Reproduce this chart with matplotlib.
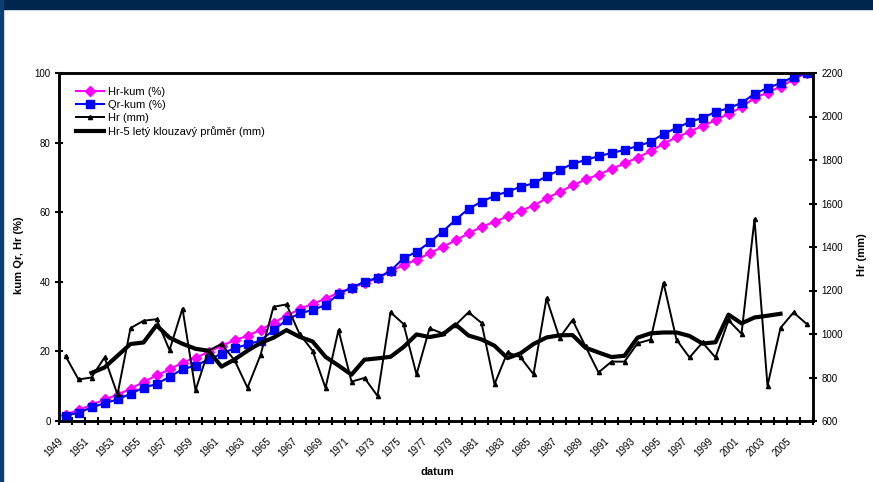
import numpy as np
import matplotlib
matplotlib.use("Agg")
import matplotlib.pyplot as plt
from matplotlib.patches import Rectangle

plt.rcParams['font.family'] = ['Liberation Sans', 'DejaVu Sans']

# roky 1949-2006
years = list(range(1949, 2007))

# rocni uhrn srazek Hr (mm)
hr = [899, 791, 800, 892, 722, 1027, 1061, 1068, 926, 1117,
      741, 924, 954, 880, 753, 903, 1125, 1136, 1000, 924,
      752, 1018, 781, 798, 715, 1100, 1046, 814, 1026, 1003,
      1041, 1100, 1051, 769, 916, 893, 815, 1164, 982, 1064,
      943, 823, 873, 873, 957, 974, 1236, 974, 892, 961,
      892, 1063, 1001, 1528, 762, 1028, 1099, 1047]

# 5lety klouzavy prumer (1951-2004)
hr_ma_years = list(range(1951, 2005))
hr_ma = [821, 846, 900, 954, 961, 1040, 983, 955, 932, 923,
         850, 883, 923, 959, 983, 1018, 987, 966, 895, 855,
         813, 882, 888, 895, 940, 998, 986, 997, 1044, 993,
         975, 946, 889, 911, 954, 984, 994, 995, 937, 915,
         894, 900, 983, 1003, 1007, 1007, 991, 956, 962, 1089,
         1049, 1076, 1084, 1093]

# kumulativni hodnoty (%)
hr_kum = [1.8, 3.2, 4.6, 6.2, 7.5, 9.3, 11.2, 13.1, 14.8, 16.8,
          18.2, 19.8, 21.6, 23.2, 24.5, 26.2, 28.2, 30.3, 32.1, 33.7,
          35.1, 36.9, 38.2, 39.7, 41.0, 43.0, 44.8, 46.3, 48.2, 50.0,
          51.9, 53.9, 55.8, 57.2, 58.8, 60.4, 61.9, 64.0, 65.8, 67.7,
          69.4, 70.8, 72.4, 74.0, 75.7, 77.5, 79.7, 81.5, 83.1, 84.8,
          86.4, 88.3, 90.1, 92.9, 94.3, 96.1, 98.1, 100.0]
qr_kum = [1.5, 2.4, 3.9, 5.1, 6.2, 7.8, 9.6, 10.6, 12.7, 14.9,
          15.9, 17.7, 19.3, 20.9, 22.0, 23.1, 26.1, 29.0, 30.9, 31.9,
          33.3, 36.5, 38.3, 40.0, 41.2, 43.1, 46.8, 48.6, 51.3, 54.4,
          57.8, 61.0, 63.0, 64.7, 65.9, 67.3, 68.3, 70.3, 72.1, 73.9,
          75.0, 76.1, 77.0, 77.9, 79.0, 80.2, 82.5, 84.2, 85.9, 87.1,
          88.8, 89.9, 91.4, 94.0, 95.7, 97.1, 98.9, 100.0]

x = np.arange(len(years))
x_ma = np.array([years.index(y) for y in hr_ma_years])

fig = plt.figure(figsize=(8.73, 4.82), dpi=100)

# tmave modry ramecek snimku
fig.patches.append(Rectangle((0, 1 - 9 / 482), 1, 9 / 482, transform=fig.transFigure,
                             color='#00264d', zorder=0))
fig.patches.append(Rectangle((0, 0), 2.5 / 873, 1, transform=fig.transFigure,
                             color='#0b3f73', zorder=0))

ax = fig.add_axes([59 / 873, 1 - 421 / 482, 754 / 873, 348 / 482])
ax2 = ax.twinx()

l1, = ax.plot(x, hr_kum, color='#ff00ff', lw=1.5, marker='D', ms=5,
              label='Hr-kum (%)', zorder=2)
l2, = ax.plot(x, qr_kum, color='#0000ff', lw=1.5, marker='s', ms=6,
              label='Qr-kum (%)', zorder=3)
l3, = ax2.plot(x, hr, color='black', lw=1.4, marker='^', ms=3,
               label='Hr (mm)')
l4, = ax2.plot(x_ma, hr_ma, color='black', lw=3,
               label='Hr-5 letý klouzavý průměr (mm)')

ax.set_xlim(-0.5, len(years) - 0.5)
ax.set_ylim(0, 100)
ax2.set_ylim(600, 2200)
ax.set_yticks(np.arange(0, 101, 20))
ax2.set_yticks(np.arange(600, 2201, 200))

# carky mezi kategoriemi, popisky kazdy druhy rok
ax.set_xticks(np.arange(-0.5, len(years), 1))
ax.set_xticklabels([])
ax.set_xticks(x[::2], minor=True)
ax.set_xticklabels([str(y) for y in years[::2]], minor=True, rotation=45,
                   ha='right', va='top', fontsize=7)
ax.tick_params(axis='x', which='minor', length=0, pad=11)

ax.tick_params(axis='x', which='major', direction='inout', length=6, width=1.5)
ax.tick_params(axis='y', direction='inout', length=6, width=1.5, labelsize=7, pad=3)
ax2.tick_params(axis='y', direction='inout', length=6, width=1.5, labelsize=7, pad=3)

for a in (ax, ax2):
    for s in a.spines.values():
        s.set_linewidth(1.8)

fig.text(19 / 873, 1 - 255 / 482, 'kum Qr, Hr (%)', rotation=90, ha='center',
         va='center', fontsize=8, fontweight='bold')
fig.text(862 / 873, 1 - 255 / 482, 'Hr (mm)', rotation=90, ha='center',
         va='center', fontsize=8, fontweight='bold')
fig.text(437 / 873, 1 - 472 / 482, 'datum', ha='center', va='center',
         fontsize=8, fontweight='bold')

ax2.legend(handles=[l1, l2, l3, l4], loc='upper left',
           bbox_to_anchor=(0.022, 0.96), frameon=False, fontsize=8,
           labelspacing=0.27, handlelength=2.6, handletextpad=0.3,
           borderpad=0, borderaxespad=0)

fig.savefig('out.png', dpi=100)
